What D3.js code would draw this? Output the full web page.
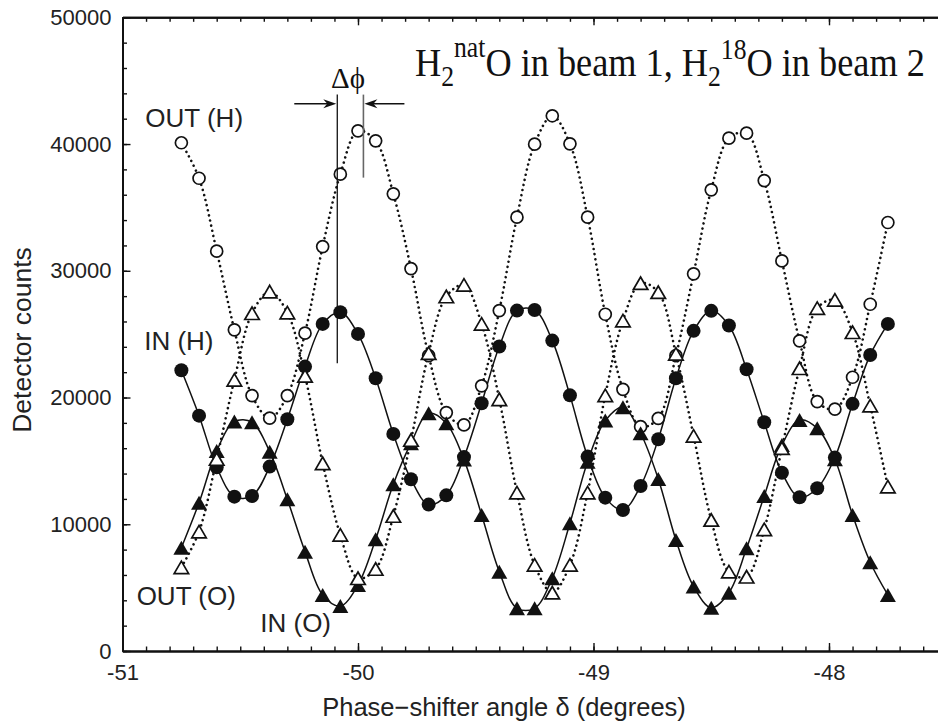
<!DOCTYPE html>
<html>
<head>
<meta charset="utf-8">
<script src="https://cdn.jsdelivr.net/npm/d3@7"></script>
<style>
  body { margin: 0; background: #fff; }
  svg { display: block; }
</style>
</head>
<body>
<script>
let w = 938;
let h = 722;

// phase-shifter angle of each measurement (degrees)
let angles = [-50.75, -50.675, -50.6, -50.525, -50.45, -50.375, -50.3, -50.225, -50.15, -50.075,
  -50.0, -49.925, -49.85, -49.775, -49.7, -49.625, -49.55, -49.475, -49.4, -49.325,
  -49.25, -49.175, -49.1, -49.025, -48.95, -48.875, -48.8, -48.725, -48.65, -48.575,
  -48.5, -48.425, -48.35, -48.275, -48.2, -48.125, -48.05, -47.975, -47.9, -47.825, -47.75];

// OUT (H) - open circles
let outH = [40100, 37300, 31550, 25340, 20150, 18370, 20150, 25080, 31910, 37620,
  41040, 40250, 36070, 30175, 23300, 18810, 17840, 20920, 26860, 34230,
  39990, 42230, 40020, 34230, 26570, 20650, 17700, 18360, 23300, 29760,
  36390, 40460, 40860, 37120, 30780, 24470, 19680, 19080, 21600, 27360, 33810];

// IN (H) - filled circles
let inH = [22150, 18570, 14500, 12180, 12230, 14550, 18290, 22440, 25810, 26730,
  25020, 21520, 17130, 13550, 11550, 12280, 15300, 19550, 24020, 26860,
  26910, 24490, 20170, 15340, 12100, 11130, 13020, 16710, 21520, 25260,
  26840, 25680, 22230, 18050, 14070, 12130, 12840, 15260, 19500, 23360, 25810];

// OUT (O) - open triangles
let outO = [6600, 9420, 15150, 21390, 26650, 28360, 26700, 21700, 14810, 9160,
  5740, 6470, 10650, 16650, 23500, 27970, 28890, 25810, 19860, 12500,
  6790, 4600, 6790, 12500, 20170, 26070, 29020, 28310, 23440, 16970,
  10340, 6260, 5860, 9600, 16000, 22310, 27050, 27700, 25150, 19360, 12970];

// IN (O) - filled triangles
let inO = [8150, 11700, 15790, 18100, 18050, 15730, 11970, 7840, 4420, 3550,
  5210, 8810, 13150, 16400, 18760, 17970, 15100, 10730, 6260, 3370,
  3370, 5740, 10080, 14940, 18180, 19230, 17180, 13580, 8760, 5080,
  3420, 4600, 8100, 12230, 16260, 18230, 17570, 15130, 10730, 7000, 4420];

let xTicks = [-51, -50, -49, -48];
let yTicks = [0, 10000, 20000, 30000, 40000, 50000];

let sansFont = "'Liberation Sans', Arial, Helvetica, sans-serif";
let serifFont = "'Liberation Serif', 'Times New Roman', serif";

let viz = d3.select("body")
  .append("svg")
    .attr("width", w)
    .attr("height", h)
;

let xScale = d3.scaleLinear().domain([-51, -47.5]).range([122.5, 946.75]);
let yScale = d3.scaleLinear().domain([0, 50000]).range([651, 17.3]);

function styleAxis(g){
  g.select(".domain").attr("stroke", "#111").attr("stroke-width", 2);
  g.selectAll(".tick line").attr("stroke", "#111").attr("stroke-width", 1.4);
  g.selectAll(".tick text")
    .attr("font-family", sansFont)
    .attr("font-size", 22)
    .attr("fill", "#222");
}

// minor ticks first, majors on top
let xMinor = viz.append("g").attr("transform", "translate(0," + yScale(0) + ")")
  .call(d3.axisBottom(xScale).ticks(35).tickSizeInner(-4.5).tickSizeOuter(0).tickFormat(""));
styleAxis(xMinor);
let xMinorTop = viz.append("g").attr("transform", "translate(0," + yScale(50000) + ")")
  .call(d3.axisTop(xScale).ticks(35).tickSizeInner(-4.5).tickSizeOuter(0).tickFormat(""));
styleAxis(xMinorTop);
let yMinor = viz.append("g").attr("transform", "translate(" + xScale(-51) + ",0)")
  .call(d3.axisLeft(yScale).ticks(25).tickSizeInner(-4.5).tickSizeOuter(0).tickFormat(""));
styleAxis(yMinor);

let xAxisGroup = viz.append("g").attr("class", "xaxis")
  .attr("transform", "translate(0," + yScale(0) + ")")
  .call(d3.axisBottom(xScale).tickValues(xTicks).tickSizeInner(-8).tickSizeOuter(0)
    .tickPadding(13).tickFormat(function(d){ return String(d); }));
styleAxis(xAxisGroup);
let xTopGroup = viz.append("g").attr("class", "xaxistop")
  .attr("transform", "translate(0," + yScale(50000) + ")")
  .call(d3.axisTop(xScale).tickValues(xTicks).tickSizeInner(-8).tickSizeOuter(0).tickFormat(""));
styleAxis(xTopGroup);
let yAxisGroup = viz.append("g").attr("class", "yaxis")
  .attr("transform", "translate(" + xScale(-51) + ",0)")
  .call(d3.axisLeft(yScale).tickValues(yTicks).tickSizeInner(-8).tickSizeOuter(0)
    .tickPadding(11).tickFormat(function(d){ return String(d); }));
styleAxis(yAxisGroup);

// axis titles
viz.append("text")
  .text("Phase\u2212shifter angle \u03b4 (degrees)")
  .attr("x", 504).attr("y", 716)
  .attr("text-anchor", "middle")
  .attr("font-family", sansFont).attr("font-size", 25.5).attr("fill", "#222");

viz.append("text")
  .text("Detector counts")
  .attr("transform", "translate(31,340) rotate(-90)")
  .attr("text-anchor", "middle")
  .attr("font-family", sansFont).attr("font-size", 26.5).attr("fill", "#222");

// curves
let series = [
  { name: "outH", values: outH, dotted: true },
  { name: "inH", values: inH, dotted: false },
  { name: "outO", values: outO, dotted: true },
  { name: "inO", values: inO, dotted: false }
];

let lineMaker = d3.line()
  .x(function(d){ return xScale(d[0]); })
  .y(function(d){ return yScale(d[1]); })
  .curve(d3.curveCatmullRom.alpha(0.5));

let curveGroup = viz.append("g").attr("class", "curves");
curveGroup.selectAll("path")
  .data(series)
  .enter()
  .append("path")
    .attr("d", function(s){ return lineMaker(angles.map(function(a, i){ return [a, s.values[i]]; })); })
    .attr("fill", "none")
    .attr("stroke", "#111")
    .attr("stroke-width", function(s){ return s.dotted ? 2.6 : 1.5; })
    .attr("stroke-linecap", "round")
    .attr("stroke-dasharray", function(s){ return s.dotted ? "0.01,5.2" : null; })
;

// markers
function pts(values){
  return angles.map(function(a, i){ return { x: a, y: values[i] }; });
}
function tri(wd, ht){
  return "M0," + (-ht / 2) + "L" + (wd / 2) + "," + (ht / 2) + "L" + (-wd / 2) + "," + (ht / 2) + "Z";
}

let markGroup = viz.append("g").attr("class", "marks");

markGroup.selectAll(".outH").data(pts(outH)).enter()
  .append("circle").attr("class", "outH")
    .attr("cx", function(d){ return xScale(d.x); })
    .attr("cy", function(d){ return yScale(d.y); })
    .attr("r", 6)
    .attr("fill", "#fff").attr("stroke", "#111").attr("stroke-width", 1.7);

markGroup.selectAll(".inH").data(pts(inH)).enter()
  .append("circle").attr("class", "inH")
    .attr("cx", function(d){ return xScale(d.x); })
    .attr("cy", function(d){ return yScale(d.y); })
    .attr("r", 7)
    .attr("fill", "#111");

markGroup.selectAll(".inO").data(pts(inO)).enter()
  .append("path").attr("class", "inO")
    .attr("d", tri(16, 14))
    .attr("transform", function(d){ return "translate(" + xScale(d.x) + "," + yScale(d.y) + ")"; })
    .attr("fill", "#111");

markGroup.selectAll(".outO").data(pts(outO)).enter()
  .append("path").attr("class", "outO")
    .attr("d", tri(14.5, 12.5))
    .attr("transform", function(d){ return "translate(" + xScale(d.x) + "," + yScale(d.y) + ")"; })
    .attr("fill", "#fff").attr("stroke", "#111").attr("stroke-width", 1.7).attr("stroke-linejoin", "miter");

// series labels
let seriesLabels = viz.append("g").attr("class", "labels")
  .attr("font-family", sansFont).attr("font-size", 26).attr("fill", "#222");
seriesLabels.append("text").text("OUT (H)").attr("x", xScale(-50.903)).attr("y", yScale(41360));
seriesLabels.append("text").text("IN (H)").attr("x", xScale(-50.908)).attr("y", yScale(23760));
seriesLabels.append("text").text("OUT (O)").attr("x", xScale(-50.94)).attr("y", yScale(3630));
seriesLabels.append("text").text("IN (O)").attr("x", xScale(-50.415)).attr("y", yScale(1500));

// delta phi annotation
let peakIn = -50.088;
let peakOut = -49.977;
let ann = viz.append("g").attr("class", "annotation");
ann.append("line")
  .attr("x1", xScale(peakIn)).attr("x2", xScale(peakIn))
  .attr("y1", yScale(43900)).attr("y2", yScale(22700))
  .attr("stroke", "#111").attr("stroke-width", 1.3);
ann.append("line")
  .attr("x1", xScale(peakOut)).attr("x2", xScale(peakOut))
  .attr("y1", yScale(43900)).attr("y2", yScale(37350))
  .attr("stroke", "#666").attr("stroke-width", 1.6);

let arrowY = yScale(43180);
function arrow(x0, x1){
  let dir = x1 > x0 ? 1 : -1;
  ann.append("line")
    .attr("x1", x0).attr("x2", x1 - dir * 8)
    .attr("y1", arrowY).attr("y2", arrowY)
    .attr("stroke", "#111").attr("stroke-width", 1.3);
  ann.append("path")
    .attr("d", "M" + x1 + "," + arrowY + "L" + (x1 - dir * 13) + "," + (arrowY - 4.5) +
      "L" + (x1 - dir * 9) + "," + arrowY + "L" + (x1 - dir * 13) + "," + (arrowY + 4.5) + "Z")
    .attr("fill", "#111");
}
arrow(xScale(peakIn) - 43, xScale(peakIn) - 1);
arrow(xScale(peakOut) + 41, xScale(peakOut) + 1);

ann.append("text")
  .text("\u0394\u03d5")
  .attr("x", 348).attr("y", 88)
  .attr("text-anchor", "middle")
  .attr("font-family", serifFont).attr("font-size", 29).attr("fill", "#111");

// title with sub/superscripts
let title = viz.append("text")
  .attr("font-family", serifFont).attr("font-size", 41).attr("fill", "#111");
let parts = [
  { t: "H", s: 41, dy: 0 },
  { t: "2", s: 29, dy: 10 },
  { t: "nat", s: 29, dy: -29 },
  { t: "O in beam 1, H", s: 41, dy: 19 },
  { t: "2", s: 29, dy: 10 },
  { t: "18", s: 29, dy: -27 },
  { t: "O in beam 2", s: 41, dy: 17 }
];
parts.forEach(function(p){
  title.append("tspan").text(p.t).attr("font-size", p.s).attr("dy", p.dy);
});
let tw = title.node().getComputedTextLength();
title.attr("transform", "translate(415,76) scale(" + (510 / tw) + ",1)");
</script>
</body>
</html>
